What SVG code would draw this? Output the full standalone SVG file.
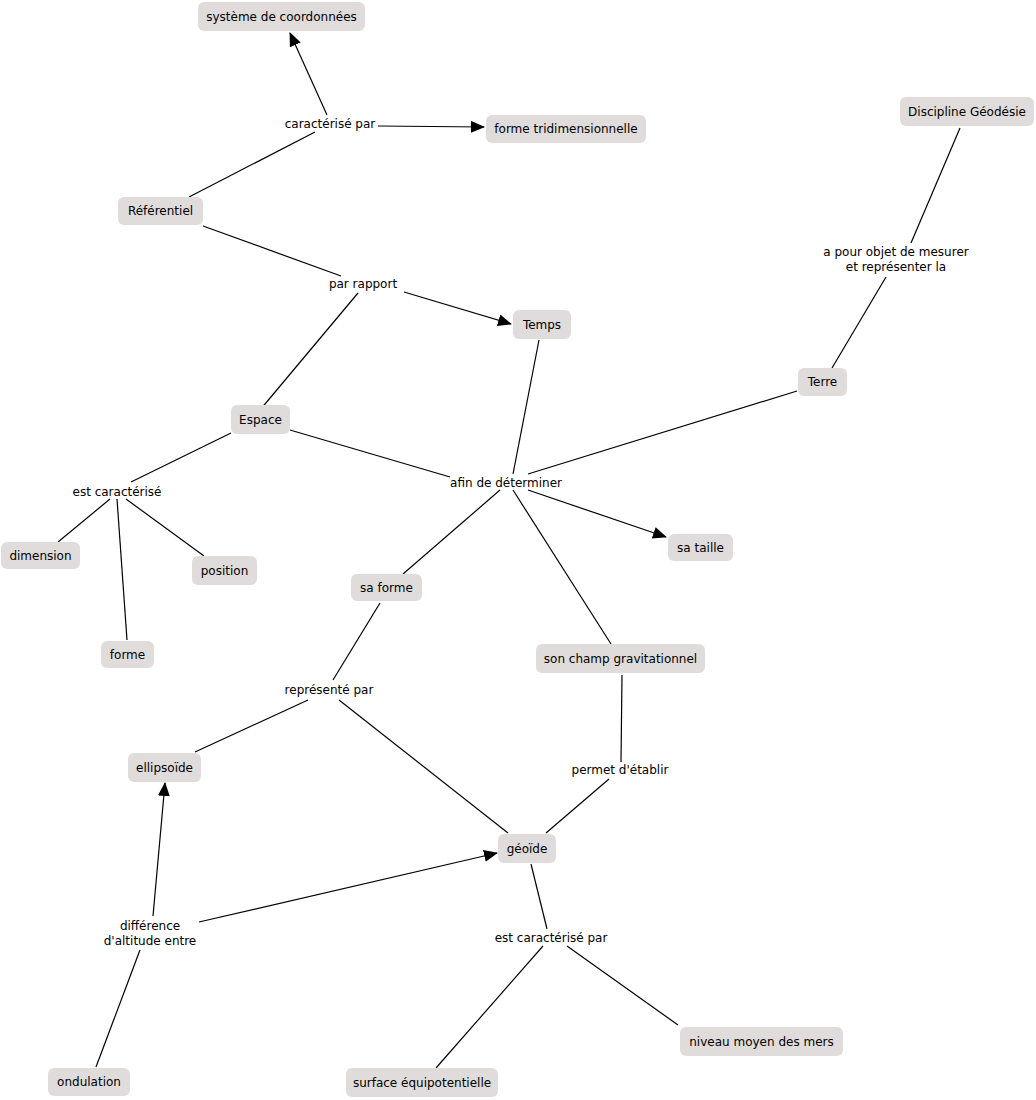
<svg xmlns="http://www.w3.org/2000/svg" width="1036" height="1100" viewBox="0 0 1036 1100">
<defs>
<marker id="arr" markerUnits="userSpaceOnUse" markerWidth="14" markerHeight="12" refX="13" refY="6" orient="auto">
<path d="M0,0 L14,6 L0,12 Z" fill="#000"/>
</marker>
<style>
.n rect{fill:#e0dcdb;rx:6;ry:6}
text{font-family:"DejaVu Sans",Verdana,sans-serif;font-size:12px;fill:#000;text-anchor:middle}
.c line{stroke:#000;stroke-width:1.2}
.a{marker-end:url(#arr)}
</style>
</defs>
<rect width="1036" height="1100" fill="#fff"/>
<g class="c">
<line x1="189" y1="197" x2="315" y2="132"/>
<line class="a" x1="327" y1="115" x2="290" y2="33"/>
<line class="a" x1="378" y1="126" x2="484" y2="127"/>
<line x1="203" y1="226" x2="341" y2="276"/>
<line class="a" x1="404" y1="292" x2="511" y2="324"/>
<line x1="358" y1="293" x2="260" y2="410"/>
<line x1="290" y1="430" x2="450" y2="477"/>
<line x1="539" y1="340" x2="513" y2="474"/>
<line x1="797" y1="391" x2="528" y2="474"/>
<line x1="500" y1="490" x2="403" y2="574"/>
<line class="a" x1="528" y1="490" x2="666" y2="537"/>
<line x1="513" y1="490" x2="611" y2="644"/>
<line x1="231" y1="433" x2="131" y2="482"/>
<line x1="110" y1="499" x2="58" y2="542"/>
<line x1="117" y1="499" x2="127" y2="640"/>
<line x1="126" y1="499" x2="204" y2="556"/>
<line x1="960" y1="128" x2="911" y2="243"/>
<line x1="886" y1="277" x2="832" y2="368"/>
<line x1="380" y1="603" x2="333" y2="680"/>
<line x1="308" y1="700" x2="195" y2="752"/>
<line x1="339" y1="700" x2="508" y2="833"/>
<line x1="622" y1="675" x2="621" y2="762"/>
<line x1="609" y1="779" x2="546" y2="833"/>
<line x1="531" y1="864" x2="547" y2="929"/>
<line x1="543" y1="946" x2="436" y2="1068"/>
<line x1="567" y1="946" x2="678" y2="1025"/>
<line class="a" x1="153" y1="916" x2="165" y2="783"/>
<line class="a" x1="199" y1="922" x2="497" y2="853"/>
<line x1="140" y1="950" x2="96" y2="1067"/>
</g>
<g id="n-systeme" class="n"><rect x="198" y="2" width="167" height="29"/><text x="281.5" y="21">système de coordonnées</text></g>
<g id="n-formetri" class="n"><rect x="486" y="115" width="160" height="28"/><text x="566" y="133">forme tridimensionnelle</text></g>
<g id="n-discipline" class="n"><rect x="900" y="97" width="134" height="29"/><text x="967" y="116">Discipline Géodésie</text></g>
<g id="n-referentiel" class="n"><rect x="118" y="197" width="85" height="28"/><text x="160.5" y="215">Référentiel</text></g>
<g id="n-temps" class="n"><rect x="513" y="310" width="58" height="29"/><text x="542" y="329">Temps</text></g>
<g id="n-terre" class="n"><rect x="798" y="368" width="49" height="28"/><text x="822.5" y="386">Terre</text></g>
<g id="n-espace" class="n"><rect x="231" y="405" width="59" height="29"/><text x="260.5" y="424">Espace</text></g>
<g id="n-dimension" class="n"><rect x="1" y="542" width="79" height="27"/><text x="40.5" y="560">dimension</text></g>
<g id="n-position" class="n"><rect x="192" y="556" width="65" height="29"/><text x="224.5" y="575">position</text></g>
<g id="n-forme" class="n"><rect x="101" y="641" width="53" height="27"/><text x="127.5" y="659">forme</text></g>
<g id="n-sataille" class="n"><rect x="668" y="534" width="65" height="27"/><text x="700.5" y="552">sa taille</text></g>
<g id="n-saforme" class="n"><rect x="351" y="574" width="71" height="27"/><text x="386.5" y="592">sa forme</text></g>
<g id="n-champ" class="n"><rect x="536" y="644" width="169" height="29"/><text x="620.5" y="663">son champ gravitationnel</text></g>
<g id="n-ellipsoide" class="n"><rect x="128" y="753" width="73" height="29"/><text x="164.5" y="772">ellipsoïde</text></g>
<g id="n-geoide" class="n"><rect x="498" y="834" width="58" height="29"/><text x="527" y="853">géoïde</text></g>
<g id="n-ondulation" class="n"><rect x="48" y="1068" width="82" height="28"/><text x="89" y="1086">ondulation</text></g>
<g id="n-surface" class="n"><rect x="346" y="1068" width="152" height="29"/><text x="422" y="1087">surface équipotentielle</text></g>
<g id="n-niveau" class="n"><rect x="680" y="1027" width="163" height="29"/><text x="761.5" y="1046">niveau moyen des mers</text></g>
<g id="labels">
<text x="330" y="128">caractérisé par</text>
<text x="363" y="288">par rapport</text>
<text x="896" y="256">a pour objet de mesurer</text>
<text x="896" y="271">et représenter la</text>
<text x="117" y="496">est caractérisé</text>
<text x="506" y="487">afin de déterminer</text>
<text x="329" y="694">représenté par</text>
<text x="620" y="774">permet d'établir</text>
<text x="150" y="930">différence</text>
<text x="150" y="945">d'altitude entre</text>
<text x="551" y="942">est caractérisé par</text>
</g>
</svg>
